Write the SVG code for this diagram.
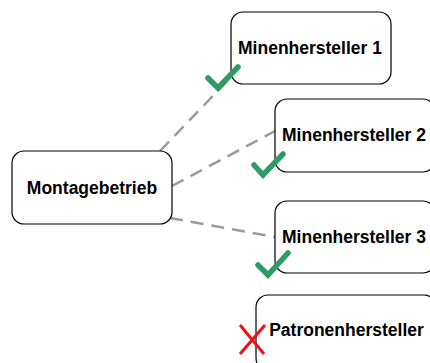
<svg xmlns="http://www.w3.org/2000/svg" width="430" height="363" viewBox="0 0 430 363">
<style>
.box{fill:#fff;stroke:#000;stroke-width:1.2}
.lbl{font-family:"Liberation Sans",Arial,sans-serif;font-size:17.5px;font-weight:bold;text-anchor:middle;fill:#000}
.con{stroke:#9a9a9a;stroke-width:2.5;stroke-dasharray:13,8;fill:none}
.chk{stroke:#2e9b63;stroke-width:5.5;fill:none;stroke-linecap:round;stroke-linejoin:miter}
.x{stroke:#e8141c;stroke-width:3;fill:none}
</style>
<rect width="430" height="363" fill="#fff"/>
<g id="connectors">
<line class="con" x1="160" y1="151" x2="233" y2="75"/>
<line class="con" x1="172" y1="186" x2="275" y2="131"/>
<line class="con" x1="170" y1="218" x2="275" y2="237"/>
</g>
<g id="montagebetrieb">
<rect class="box" x="12" y="151" width="160" height="73" rx="12"/>
<text class="lbl" x="92" y="193.5">Montagebetrieb</text>
</g>
<g id="minenhersteller1">
<rect class="box" x="231" y="12" width="160" height="72" rx="12"/>
<text class="lbl" x="310" y="54">Minenhersteller 1</text>
</g>
<g id="minenhersteller2">
<rect class="box" x="275" y="99" width="160" height="73" rx="12"/>
<text class="lbl" x="354" y="141">Minenhersteller 2</text>
</g>
<g id="minenhersteller3">
<rect class="box" x="275" y="201" width="160" height="72" rx="12"/>
<text class="lbl" x="354" y="243">Minenhersteller 3</text>
</g>
<g id="patronenhersteller">
<rect class="box" x="256" y="295" width="180" height="75" rx="12"/>
<text class="lbl" x="346.5" y="336">Patronenhersteller</text>
</g>
<g id="marks">
<polyline class="chk" points="208,78 218,88 238,67"/>
<polyline class="chk" points="254,165 263,175 283,154"/>
<polyline class="chk" points="258,265 268,275 288,253"/>
<line class="x" x1="240" y1="325" x2="264" y2="354"/>
<line class="x" x1="265" y1="325" x2="240" y2="354"/>
</g>
</svg>
